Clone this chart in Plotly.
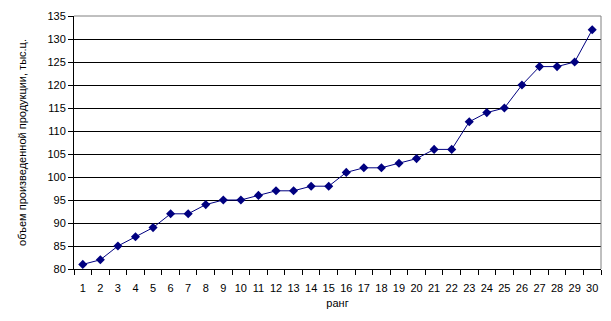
import plotly.graph_objects as go

ranks = list(range(1, 31))
values = [81, 82, 85, 87, 89, 92, 92, 94, 95, 95, 96, 97, 97, 98, 98,
          101, 102, 102, 103, 104, 106, 106, 112, 114, 115, 120, 124, 124, 125, 132]
y_ticks = list(range(80, 136, 5))
x_title = "ранг"
y_title = "объем произведенной продукции, тыс.ц."

fig = go.Figure()
fig.add_trace(go.Scatter(
    x=ranks, y=values, mode="lines+markers",
    line=dict(color="#000080", width=1),
    marker=dict(symbol="diamond", size=7, color="#000080"),
))

font = dict(family="Liberation Sans, Arial, sans-serif", size=11, color="black")
fig.update_layout(
    width=611, height=321,
    margin=dict(l=74, r=10, t=16, b=52),
    paper_bgcolor="white", plot_bgcolor="white",
    showlegend=False, font=font,
    xaxis=dict(
        range=[0.5, 30.5], tickvals=ranks, ticktext=[str(r) for r in ranks],
        ticks="outside", ticklen=9, tickcolor="rgba(0,0,0,0)",
        showgrid=False, zeroline=False,
        showline=True, linecolor="black", linewidth=1,
        minor=dict(tick0=0.5, dtick=1, ticks="outside", ticklen=5, tickcolor="black", showgrid=False),
        title=dict(text=x_title, standoff=6, font=font),
        tickfont=font,
    ),
    yaxis=dict(
        range=[80, 135], tickvals=y_ticks,
        ticks="outside", ticklen=5, tickcolor="black",
        showgrid=True, gridcolor="black", gridwidth=1,
        zeroline=False, showline=True, linecolor="black", linewidth=1,
        title=dict(text=y_title, standoff=18, font=font),
        tickfont=font,
    ),
)
fig.add_shape(type="line", xref="paper", yref="paper", x0=0, x1=1, y0=1, y1=1,
              line=dict(color="#808080", width=1))
fig.add_shape(type="line", xref="paper", yref="paper", x0=1, x1=1, y0=0, y1=1,
              line=dict(color="#808080", width=1))
fig.write_html("out.html")
